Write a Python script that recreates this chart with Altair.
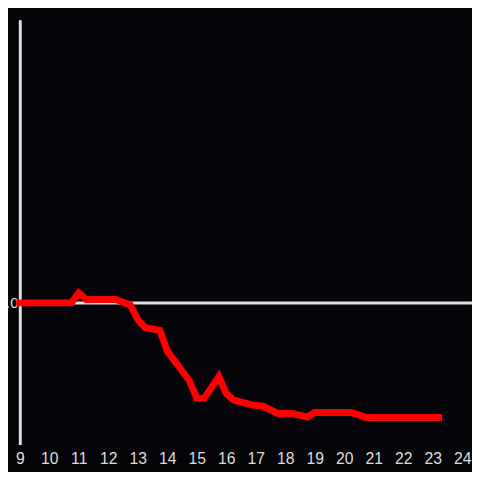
import altair as alt
import pandas as pd

hours = [9.0, 10.75, 11.0, 11.25, 12.25, 12.75, 13.0, 13.25, 13.75, 14.0, 14.75,
         15.0, 15.25, 15.75, 16.0, 16.25, 16.9, 17.25, 17.75, 18.25, 18.75, 19.0,
         20.25, 20.75, 23.2]
values = [0.0, 0.0, 0.07, 0.024, 0.024, -0.014, -0.118, -0.174, -0.194, -0.34, -0.549,
          -0.674, -0.674, -0.52, -0.639, -0.687, -0.722, -0.729, -0.781, -0.781, -0.806, -0.774,
          -0.774, -0.809, -0.809]
x_ticks = list(range(9, 25))
y_ticks = [0]

df = pd.DataFrame({"hour": hours, "value": values})
zero = pd.DataFrame({"value": [0]})

font = "Liberation Sans"
label_color = "#dddddd"

x_scale = alt.Scale(domain=[9, 24.3333], nice=False, zero=False)
y_scale = alt.Scale(domain=[-1, 2], nice=False, zero=False)

rule = alt.Chart(zero).mark_rule(color="#e0e0e0", strokeWidth=3).encode(
    y=alt.Y("value:Q", scale=y_scale,
            axis=alt.Axis(values=y_ticks, title=None, grid=False, ticks=False, tickSize=0,
                          labelPadding=2, labelFont=font, labelFontSize=15,
                          labelColor=label_color, domainColor="#e0e0e0", domainWidth=3))
)

line = alt.Chart(df).mark_line(color="#ff0000", strokeWidth=7, strokeCap="square",
                               strokeJoin="miter").encode(
    x=alt.X("hour:Q", scale=x_scale,
            axis=alt.Axis(values=x_ticks, title=None, grid=False, ticks=False, tickSize=0,
                          domain=False, labelPadding=6, labelFont=font, labelFontSize=16,
                          labelColor=label_color, labelFlush=False)),
    y=alt.Y("value:Q", scale=y_scale),
)

chart = alt.layer(rule, line).properties(
    width=460, height=432,
    autosize=alt.AutoSizeParams(type="none"),
    padding={"left": 12, "top": 8, "right": 0, "bottom": 24},
    background="#050408",
).configure_view(stroke=None)

chart.save("out.html", embed_options={"renderer": "svg", "actions": False})
